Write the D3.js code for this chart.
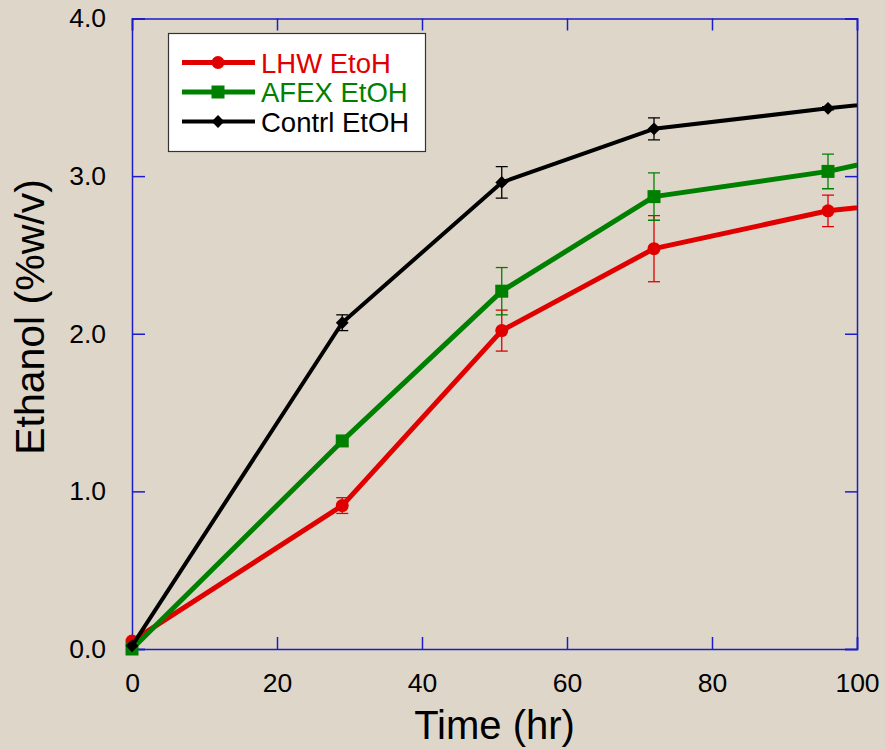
<!DOCTYPE html>
<html lang="en">
<head>
  <meta charset="UTF-8">
  <title>Ethanol vs time</title>
  <style>
    html, body { margin: 0; height: 100%; background: #ded7c9; }
    svg { display: block; }
  </style>
</head>
<body>
  <svg width="885" height="750"></svg>
  <script src="https://cdn.jsdelivr.net/npm/d3@7"></script>
  <script>
    // data (last point at 120 hr is off-plot, clipped)
    var time = [0, 29, 51, 72, 96, 120]
    var lhw = [0.05, 0.91, 2.02, 2.54, 2.78, 2.90]
    var lhwErr = [0, 0.05, 0.13, 0.21, 0.10, 0]
    var afex = [0.0, 1.32, 2.27, 2.87, 3.03, 3.27]
    var afexErr = [0, 0.03, 0.15, 0.15, 0.11, 0]
    var contrl = [0.02, 2.07, 2.96, 3.30, 3.43, 3.55]
    var contrlErr = [0, 0.05, 0.10, 0.07, 0.01, 0]
    var xTicks = [0, 20, 40, 60, 80, 100]
    var yTicks = [0, 1, 2, 3, 4]

    var series = [
      { name: 'LHW EtoH', y: lhw, err: lhwErr, color: '#e00000', width: 5, marker: 'circle' },
      { name: 'AFEX EtOH', y: afex, err: afexErr, color: '#008000', width: 5, marker: 'square' },
      { name: 'Contrl EtOH', y: contrl, err: contrlErr, color: '#000000', width: 4, marker: 'diamond' }
    ]

    var svg = d3.select('svg')
    var pLeft = 132, pRight = 857, pTop = 18.5, pBottom = 649
    var x = d3.scaleLinear().domain([0, 100]).range([pLeft, pRight])
    var y = d3.scaleLinear().domain([0, 4]).range([pBottom, pTop])
    var axisColor = '#1c1cc8'
    var font = 'Liberation Sans, Arial, sans-serif'

    svg.append('defs').append('clipPath').attr('id', 'clip')
      .append('rect').attr('x', pLeft - 15).attr('y', pTop - 15)
      .attr('width', pRight - pLeft + 15).attr('height', pBottom - pTop + 30)

    // axes (ticks point inward, mirrored on the top and right)
    svg.append('g').attr('transform', `translate(0,${pBottom})`)
      .call(d3.axisBottom(x).tickValues(xTicks).tickSize(-12).tickPadding(24).tickFormat(d3.format('d')))
    svg.append('g').attr('transform', `translate(0,${pTop})`)
      .call(d3.axisTop(x).tickValues(xTicks).tickSize(-12).tickFormat(''))
    svg.append('g').attr('transform', `translate(${pLeft},0)`)
      .call(d3.axisLeft(y).tickValues(yTicks).tickSize(-13).tickPadding(26).tickFormat(d3.format('.1f')))
    svg.append('g').attr('transform', `translate(${pRight},0)`)
      .call(d3.axisRight(y).tickValues(yTicks).tickSize(-12).tickFormat(''))

    svg.selectAll('.domain, .tick line').attr('stroke', axisColor).attr('stroke-width', 1.5)
    svg.selectAll('.tick text').attr('fill', '#000').attr('font-size', 26.5).attr('font-family', font)

    svg.append('text').attr('x', (pLeft + pRight) / 2).attr('y', 739)
      .attr('text-anchor', 'middle').attr('font-size', 40).attr('font-family', font)
      .text('Time (hr)')
    svg.append('text').attr('transform', 'translate(44,317) rotate(-90)')
      .attr('text-anchor', 'middle').attr('font-size', 41).attr('font-family', font)
      .text('Ethanol (%w/v)')

    function drawMarker(g, type, color) {
      if (type === 'circle') g.append('circle').attr('r', 6.5).attr('fill', color)
      else if (type === 'square') g.append('rect').attr('x', -6.5).attr('y', -6.5)
        .attr('width', 13).attr('height', 13).attr('fill', color)
      else g.append('path').attr('d', d3.symbol(d3.symbolDiamond2, 105)()).attr('fill', color)
    }

    var plot = svg.append('g').attr('clip-path', 'url(#clip)')
    var line = d3.line().x((d, i) => x(time[i])).y(d => y(d))

    series.forEach(s => {
      var g = plot.append('g')
      // error bars
      time.forEach((t, i) => {
        if (!s.err[i]) return
        var y0 = y(s.y[i] - s.err[i]), y1 = y(s.y[i] + s.err[i])
        g.append('line').attr('x1', x(t)).attr('x2', x(t)).attr('y1', y0).attr('y2', y1)
          .attr('stroke', s.color).attr('stroke-width', 1.3)
        ;[y0, y1].forEach(v => g.append('line').attr('x1', x(t) - 6).attr('x2', x(t) + 6)
          .attr('y1', v).attr('y2', v).attr('stroke', s.color).attr('stroke-width', 1.3))
      })
      g.append('path').datum(s.y).attr('d', line).attr('fill', 'none')
        .attr('stroke', s.color).attr('stroke-width', s.width).attr('stroke-linejoin', 'round')
      time.forEach((t, i) => {
        var m = g.append('g').attr('transform', `translate(${x(t)},${y(s.y[i])})`)
        drawMarker(m, s.marker, s.color)
      })
    })

    // legend
    var legend = svg.append('g')
    legend.append('rect').attr('x', 168.5).attr('y', 33.5).attr('width', 257).attr('height', 118)
      .attr('fill', '#fff').attr('stroke', '#333').attr('stroke-width', 1.2)
    series.forEach((s, i) => {
      var ly = 62.5 + i * 29.5
      legend.append('line').attr('x1', 182).attr('x2', 255).attr('y1', ly).attr('y2', ly)
        .attr('stroke', s.color).attr('stroke-width', s.width)
      drawMarker(legend.append('g').attr('transform', `translate(218,${ly})`), s.marker, s.color)
      legend.append('text').attr('x', 261).attr('y', ly + 10).attr('font-size', 27.5)
        .attr('font-family', font).attr('fill', s.color).text(s.name)
    })
  </script>
</body>
</html>
